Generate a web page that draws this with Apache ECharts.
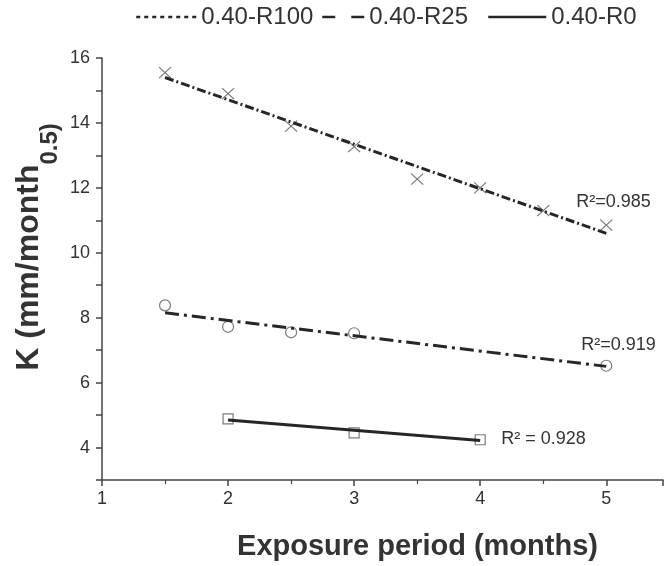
<!DOCTYPE html>
<html>
<head>
<meta charset="utf-8">
<script src="https://cdn.jsdelivr.net/npm/echarts@6/dist/echarts.min.js"></script>
<style>
  html, body { margin: 0; padding: 0; background: #ffffff; }
  #chart { width: 666px; height: 566px; }
</style>
</head>
<body>
<div id="chart"></div>
<script>
// Measured sorptivity K against exposure period for three mixes
const monthsR100 = [1.5, 2, 2.5, 3, 3.5, 4, 4.5, 5];
const kR100 = [15.55, 14.9, 13.9, 13.27, 12.27, 12.0, 11.3, 10.85];
const monthsR25 = [1.5, 2, 2.5, 3, 5];
const kR25 = [8.38, 7.72, 7.55, 7.52, 6.52];
const monthsR0 = [2, 3, 4];
const kR0 = [4.88, 4.45, 4.24];

// Trend line end points
const trendR100Months = [1.5, 5];
const trendR100K = [15.4, 10.6];
const trendR25Months = [1.5, 5];
const trendR25K = [8.15, 6.5];
const trendR0Months = [2, 4];
const trendR0K = [4.85, 4.22];

const seriesNames = ['0.40-R100', '0.40-R25', '0.40-R0'];
const r2Labels = ['R\u00b2=0.985', 'R\u00b2=0.919', 'R\u00b2 = 0.928'];

const xTicks = [1, 2, 3, 4, 5];

const pairs = (xs, ys) => xs.map((x, i) => [x, ys[i]]);

const ink = '#262626';
const markInk = '#5a5a5a';
const font = 'Arial, "Liberation Sans", sans-serif';

const markerBase = {
  type: 'scatter',
  silent: true,
  itemStyle: { color: 'rgba(0,0,0,0)', borderColor: markInk, borderWidth: 1.2 },
  z: 3
};

function trendLabel(i, offset) {
  return {
    show: true,
    formatter: () => r2Labels[i],
    fontFamily: font,
    fontSize: 18,
    color: '#333',
    distance: 5,
    offset: offset
  };
}

const hiddenIcon = { color: 'rgba(0,0,0,0)', borderColor: 'rgba(0,0,0,0)', borderWidth: 0 };
const legendText = { fontFamily: font, fontSize: 24, color: '#333' };

const chart = echarts.init(document.getElementById('chart'), null, { renderer: 'canvas' });

chart.setOption({
  backgroundColor: '#ffffff',
  animation: false,
  grid: { left: 102, right: 1, top: 58, bottom: 79 },
  legend: [
    {
      left: 130, top: 0, itemWidth: 60, itemHeight: 14, itemGap: 0,
      data: [{ name: seriesNames[0], itemStyle: hiddenIcon, lineStyle: { color: ink, type: [4, 4], width: 2.5 } }],
      textStyle: legendText
    },
    {
      left: 316, top: 0, itemWidth: 42, itemHeight: 14, itemGap: 0,
      data: [{ name: seriesNames[1], itemStyle: hiddenIcon, lineStyle: { color: ink, type: [13, 16], width: 2.5 } }],
      textStyle: legendText
    },
    {
      left: 482, top: 0, itemWidth: 58, itemHeight: 14, itemGap: 0,
      data: [{ name: seriesNames[2], itemStyle: hiddenIcon, lineStyle: { color: ink, type: 'solid', width: 2.5 } }],
      textStyle: legendText
    }
  ],
  xAxis: {
    type: 'value',
    min: 1,
    max: 5.45,
    interval: 1,
    name: 'Exposure period (months)',
    nameLocation: 'middle',
    nameGap: 52,
    nameTextStyle: { fontFamily: font, fontSize: 29, fontWeight: 'bold', color: '#333', padding: [0, 0, 0, 70] },
    axisLine: { lineStyle: { color: '#444', width: 1.5 } },
    axisTick: { inside: false, length: 6, lineStyle: { color: '#444', width: 1.5 } },
    minorTick: { show: true, splitNumber: 2, length: 4, lineStyle: { color: '#444', width: 1.2 } },
    splitLine: { show: false },
    axisLabel: {
      fontFamily: font, fontSize: 18, color: '#333', margin: 10,
      formatter: (v) => xTicks.includes(v) ? String(v) : ''
    }
  },
  yAxis: {
    type: 'value',
    min: 3,
    max: 16,
    interval: 1,
    name: '{m|K (mm/month}{s|0.5}{s|)}',
    nameLocation: 'middle',
    nameGap: 15,
    nameMoveOverlap: false,
    nameTextStyle: {
      padding: [0, 0, 0, 44],
      rich: {
        m: { fontFamily: font, fontSize: 32, fontWeight: 'bold', color: '#333', lineHeight: 32, verticalAlign: 'top' },
        s: { fontFamily: font, fontSize: 24, fontWeight: 'bold', color: '#333', lineHeight: 74 }
      }
    },
    axisLine: { lineStyle: { color: '#444', width: 1.5 } },
    axisTick: { inside: false, length: 6, lineStyle: { color: '#444', width: 1.5 } },
    splitLine: { show: false },
    axisLabel: {
      fontFamily: font, fontSize: 18, color: '#333', margin: 12,
      formatter: (v) => (v % 2 === 0 ? String(v) : '')
    }
  },
  series: [
    {
      ...markerBase,
      name: 'pts-R100',
      symbol: 'path://M0,0L10,10M10,0L0,10',
      symbolSize: [12, 11],
      data: pairs(monthsR100, kR100)
    },
    {
      ...markerBase,
      name: 'pts-R25',
      symbol: 'circle',
      symbolSize: 11,
      data: pairs(monthsR25, kR25)
    },
    {
      ...markerBase,
      name: 'pts-R0',
      symbol: 'rect',
      symbolSize: 10,
      data: pairs(monthsR0, kR0)
    },
    {
      type: 'line',
      name: seriesNames[0],
      symbol: 'none',
      silent: true,
      z: 4,
      lineStyle: { color: ink, width: 3, type: [9, 3, 2, 3] },
      itemStyle: { color: ink },
      data: pairs(trendR100Months, trendR100K),
      endLabel: trendLabel(0, [-35, -31])
    },
    {
      type: 'line',
      name: seriesNames[1],
      symbol: 'none',
      silent: true,
      z: 4,
      lineStyle: { color: ink, width: 3, type: [14, 5, 3, 5] },
      itemStyle: { color: ink },
      data: pairs(trendR25Months, trendR25K),
      endLabel: trendLabel(1, [-30, -21])
    },
    {
      type: 'line',
      name: seriesNames[2],
      symbol: 'none',
      silent: true,
      z: 4,
      lineStyle: { color: ink, width: 3, type: 'solid' },
      itemStyle: { color: ink },
      data: pairs(trendR0Months, trendR0K),
      endLabel: trendLabel(2, [16, -1])
    }
  ]
});
</script>
</body>
</html>
